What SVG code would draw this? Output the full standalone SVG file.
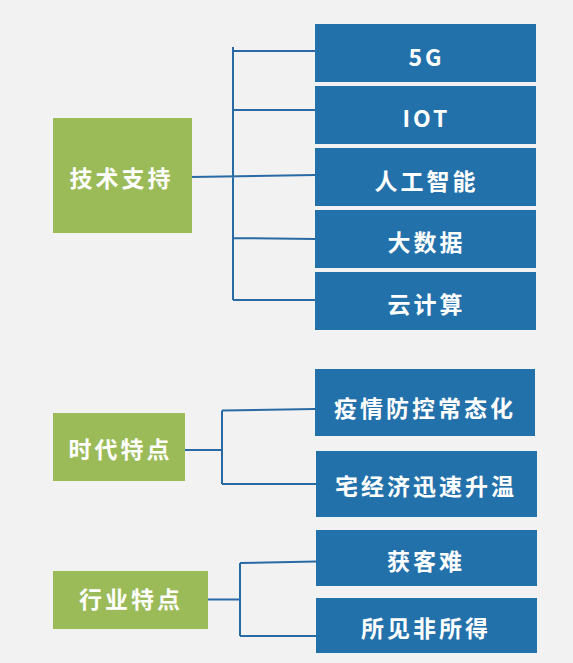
<svg xmlns="http://www.w3.org/2000/svg" width="573" height="663" viewBox="0 0 573 663">
<style>
.g{fill:#9bbb59}
.b{fill:#2371ab}
.t{fill:#fff;font-family:"Noto Sans CJK SC","Noto Sans",sans-serif;font-weight:bold;font-size:23px;text-anchor:middle;dominant-baseline:central;letter-spacing:3px}
.c{fill:none;stroke:#2a6aa4;stroke-width:2}
</style>
<rect width="573" height="663" fill="#f2f2f2"/>
<g id="connectors">
<path class="c" d="M233 47V300M233 51H315M233 110H315M190 177L315 175M233 238L315 239M233 300H315"/>
<path class="c" d="M185 450H222M222 410.5V484M222 410.5L315 409M222 484H316"/>
<path class="c" d="M206 599.5H240M240 563V636M240 563L316 561.5M240 636H316"/>
</g>
<g id="n-tech"><rect class="g" x="53" y="118" width="139" height="115"/><text class="t" x="121.5" y="176.5">技术支持</text></g>
<g id="n-5g"><rect class="b" x="315" y="24" width="221" height="58"/><text class="t" x="426.5" y="55.5">5G</text></g>
<g id="n-iot"><rect class="b" x="315" y="86" width="221" height="58"/><text class="t" x="426.5" y="116.5">IOT</text></g>
<g id="n-ai"><rect class="b" x="315" y="148" width="221" height="58"/><text class="t" x="426.5" y="180">人工智能</text></g>
<g id="n-bigdata"><rect class="b" x="315" y="210" width="221" height="58"/><text class="t" x="426.5" y="241">大数据</text></g>
<g id="n-cloud"><rect class="b" x="315" y="272" width="221" height="58"/><text class="t" x="426.5" y="303">云计算</text></g>
<g id="n-era"><rect class="g" x="53" y="413" width="132" height="68"/><text class="t" x="120.5" y="448">时代特点</text></g>
<g id="n-epi"><rect class="b" x="315" y="369" width="220" height="67"/><text class="t" x="425" y="406.5">疫情防控常态化</text></g>
<g id="n-home"><rect class="b" x="316" y="451" width="221" height="66"/><text class="t" x="426" y="485">宅经济迅速升温</text></g>
<g id="n-ind"><rect class="g" x="53" y="571" width="155" height="58"/><text class="t" x="131" y="598">行业特点</text></g>
<g id="n-acq"><rect class="b" x="316" y="530" width="221" height="56"/><text class="t" x="426" y="560">获客难</text></g>
<g id="n-see"><rect class="b" x="316" y="598" width="221" height="55"/><text class="t" x="426" y="626.5">所见非所得</text></g>
</svg>
